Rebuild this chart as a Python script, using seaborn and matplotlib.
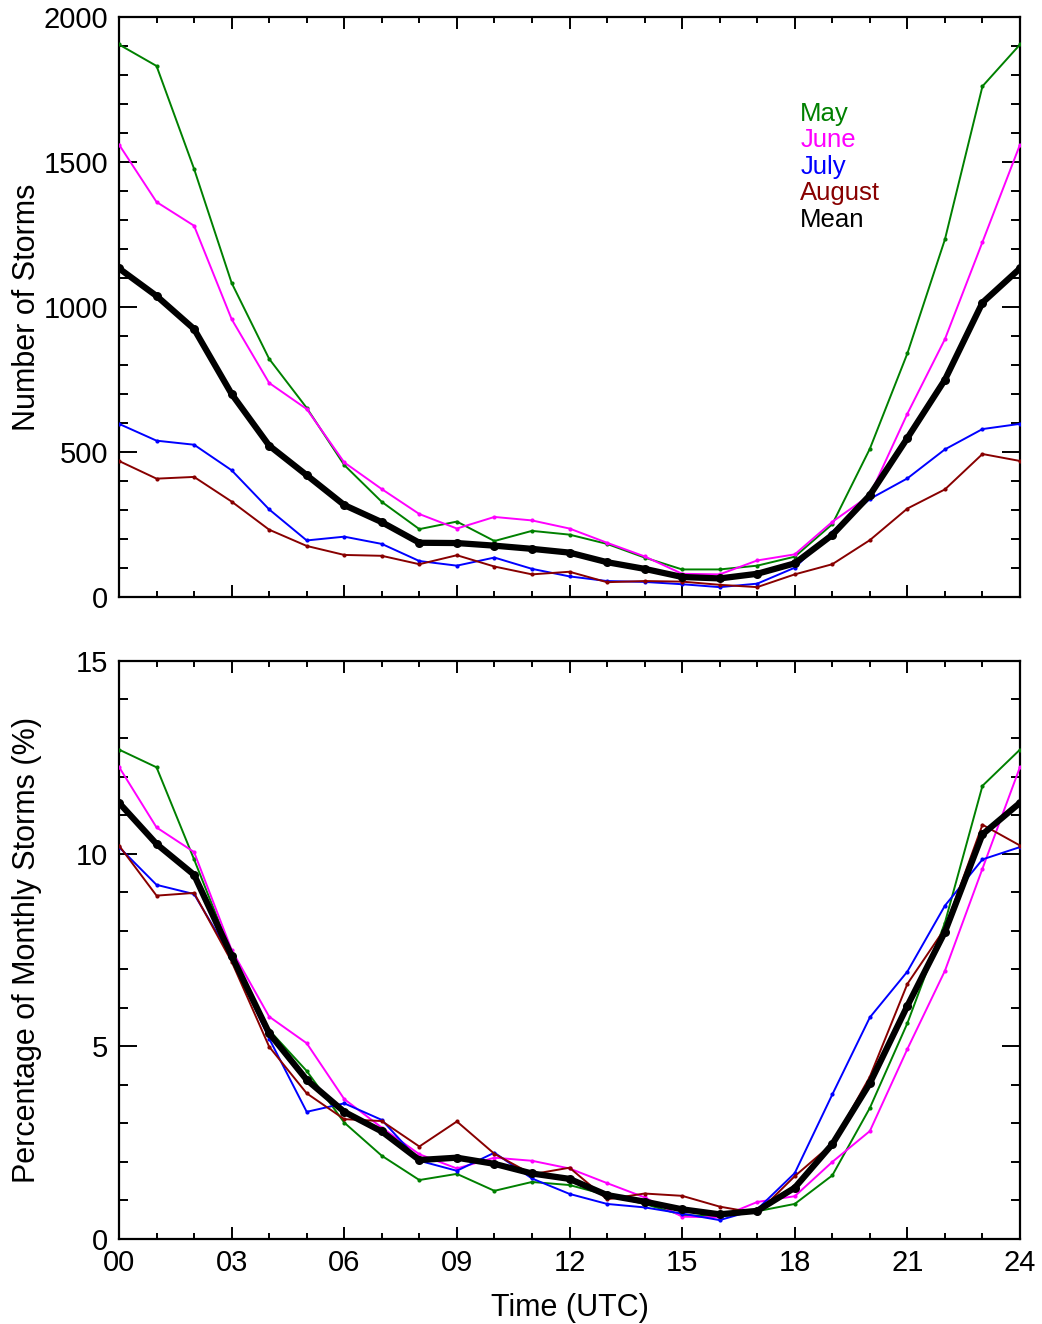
import numpy as np
import pandas as pd
import matplotlib
matplotlib.use('Agg')
import matplotlib.pyplot as plt
import seaborn as sns
from matplotlib.ticker import MultipleLocator

# ---------------- data ----------------
hours = list(range(25))
hour_tick_labels = ['00', '03', '06', '09', '12', '15', '18', '21', '24']
series_names = ['May', 'June', 'July', 'August', 'Mean']

may_count = [1905, 1831, 1476, 1083, 821, 652, 455, 328, 234, 260, 193, 228, 215,
             183, 136, 95, 95, 108, 139, 251, 511, 840, 1233, 1761, 1905]
june_count = [1560, 1362, 1280, 958, 738, 648, 464, 372, 286, 236, 276, 264, 236,
              187, 140, 80, 78, 126, 147, 259, 351, 632, 889, 1224, 1560]
july_count = [597, 539, 525, 437, 302, 195, 208, 183, 124, 108, 136, 97, 71,
              55, 52, 44, 34, 46, 101, 225, 338, 409, 509, 579, 597]
august_count = [469, 408, 414, 329, 232, 176, 145, 142, 113, 144, 105, 78, 87,
                51, 55, 53, 42, 34, 78, 113, 196, 305, 371, 493, 469]
mean_count = [1133, 1038, 924, 700, 522, 420, 317, 258, 187, 186, 177, 166, 153,
              120, 97, 69, 64, 80, 116, 214, 351, 548, 749, 1015, 1133]

may_pct = [12.70, 12.24, 9.85, 7.40, 5.42, 4.36, 3.02, 2.16, 1.53, 1.69, 1.25, 1.48, 1.40,
           1.14, 0.91, 0.62, 0.58, 0.72, 0.91, 1.65, 3.40, 5.60, 8.21, 11.76, 12.70]
june_pct = [12.25, 10.68, 10.04, 7.50, 5.77, 5.08, 3.63, 2.89, 2.20, 1.83, 2.11, 2.03, 1.83,
            1.45, 1.08, 0.58, 0.56, 0.96, 1.11, 2.00, 2.80, 4.93, 6.96, 9.61, 12.25]
july_pct = [10.17, 9.19, 8.95, 7.30, 5.20, 3.30, 3.52, 3.09, 2.03, 1.77, 2.24, 1.57, 1.17,
            0.91, 0.82, 0.66, 0.49, 0.77, 1.71, 3.75, 5.75, 6.94, 8.65, 9.85, 10.17]
august_pct = [10.21, 8.91, 8.98, 7.20, 4.99, 3.78, 3.11, 3.06, 2.40, 3.05, 2.21, 1.68, 1.85,
              1.03, 1.18, 1.12, 0.84, 0.67, 1.63, 2.47, 4.21, 6.62, 8.06, 10.75, 10.21]
mean_pct = [11.32, 10.25, 9.45, 7.35, 5.34, 4.13, 3.30, 2.79, 2.05, 2.11, 1.95, 1.70, 1.56,
            1.14, 0.97, 0.77, 0.64, 0.73, 1.33, 2.46, 4.04, 6.05, 7.97, 10.50, 11.32]

colors = {'May': '#008000', 'June': '#ff00ff', 'July': '#0000ff',
          'August': '#880000', 'Mean': '#000000'}

counts = {'May': may_count, 'June': june_count, 'July': july_count,
          'August': august_count, 'Mean': mean_count}
pcts = {'May': may_pct, 'June': june_pct, 'July': july_pct,
        'August': august_pct, 'Mean': mean_pct}

# ---------------- style ----------------
sns.set_theme(style='white')
plt.rcParams['font.family'] = ['Liberation Sans', 'DejaVu Sans']
plt.rcParams['axes.linewidth'] = 1.6

fig = plt.figure(figsize=(10.42, 13.24), dpi=100)
ax1 = fig.add_axes([0.1142, 0.5491, 0.8647, 0.4381])
ax2 = fig.add_axes([0.1142, 0.0642, 0.8647, 0.4366])


def draw(ax, data):
    for name in series_names:
        df = pd.DataFrame({'hour': hours, 'value': data[name]})
        if name == 'Mean':
            sns.lineplot(data=df, x='hour', y='value', ax=ax, color=colors[name],
                         lw=4.5, marker='o', markersize=6.5, markeredgewidth=0,
                         estimator=None, legend=False, zorder=5)
        else:
            sns.lineplot(data=df, x='hour', y='value', ax=ax, color=colors[name],
                         lw=1.4, marker='o', markersize=3, markeredgewidth=0,
                         estimator=None, legend=False, zorder=3)


def style_axes(ax, ymax, ymajor, yminor, show_xlabels):
    ax.set_xlim(0, 24)
    ax.set_ylim(0, ymax)
    ax.xaxis.set_major_locator(MultipleLocator(3))
    ax.xaxis.set_minor_locator(MultipleLocator(1))
    ax.yaxis.set_major_locator(MultipleLocator(ymajor))
    ax.yaxis.set_minor_locator(MultipleLocator(yminor))
    ax.tick_params(axis='both', which='both', direction='in', top=True, right=True,
                   bottom=True, left=True, color='black', width=1.4)
    ax.tick_params(axis='x', which='major', length=8.6, pad=7)
    ax.tick_params(axis='x', which='minor', length=4.3)
    ax.tick_params(axis='y', which='major', length=13, pad=8)
    ax.tick_params(axis='y', which='minor', length=6.5)
    ax.tick_params(axis='both', labelsize=21, labelcolor='black')
    if show_xlabels:
        ax.set_xticks(range(0, 25, 3))
        ax.set_xticklabels(hour_tick_labels)
    else:
        ax.set_xticklabels([])
    for s in ax.spines.values():
        s.set_color('black')
        s.set_linewidth(1.6)
    ax.set_xlabel('')


draw(ax1, counts)
style_axes(ax1, 2000, 500, 100, False)
ax1.set_ylabel('Number of Storms', fontsize=22, color='black')

draw(ax2, pcts)
style_axes(ax2, 15, 5, 1, True)
ax2.set_ylabel('Percentage of Monthly Storms (%)', fontsize=22, color='black')
ax2.set_xlabel('Time (UTC)', fontsize=22, color='black', labelpad=12)

ax1.yaxis.set_label_coords(-0.085, 0.5)
ax2.yaxis.set_label_coords(-0.085, 0.5)

for i, name in enumerate(series_names):
    ax1.text(0.756, 0.833 - i * 0.0457, name, transform=ax1.transAxes,
             color=colors[name], fontsize=18.5, va='center', ha='left')

fig.savefig('out.png', dpi=100, facecolor='white')
